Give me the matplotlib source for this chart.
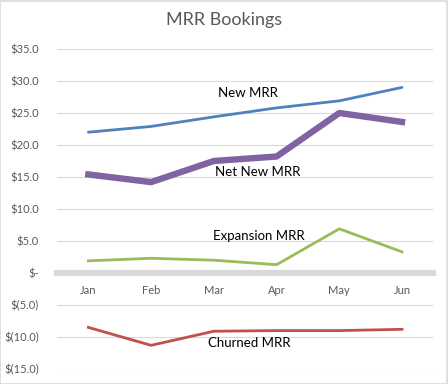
import matplotlib
matplotlib.use("Agg")
import matplotlib.pyplot as plt
from matplotlib.patches import Rectangle

months = ["Jan", "Feb", "Mar", "Apr", "May", "Jun"]
new_mrr = [22.0, 22.9, 24.4, 25.8, 26.9, 29.0]
net_new_mrr = [15.4, 14.2, 17.5, 18.2, 25.0, 23.6]
expansion_mrr = [1.9, 2.3, 2.0, 1.3, 6.9, 3.3]
churned_mrr = [-8.5, -11.3, -9.1, -9.0, -9.0, -8.8]
yticks = [35, 30, 25, 20, 15, 10, 5, 0, -5, -10, -15]

plt.rcParams['font.family'] = ['Lato', 'DejaVu Sans']

fig = plt.figure(figsize=(4.48, 3.84), dpi=100)
fig.patches.append(Rectangle((0.001, 0.001), 0.997, 0.997, transform=fig.transFigure,
                             fill=False, edgecolor="#D9D9D9", linewidth=1.2))
ax = fig.add_axes([57/448, 1-369/384, (433.4-57)/448, (369-49)/384])

x = list(range(len(months)))
ax.plot(x, new_mrr, color="#4F81BD", lw=2.0, solid_capstyle="round", zorder=3)
ax.plot(x, net_new_mrr, color="#8064A2", lw=4.6, solid_joinstyle="round", zorder=3)
ax.plot(x, expansion_mrr, color="#9BBB59", lw=2.0, zorder=3)
ax.plot(x, churned_mrr, color="#C0504D", lw=2.0, zorder=3)

ax.set_xlim(-0.5, 5.5)
ax.set_ylim(-15, 35)
ax.set_yticks(yticks)

def fmt(v):
    if v == 0:
        return "$-"
    if v < 0:
        return "$(%.1f)" % abs(v)
    return "$%.1f" % v

ax.set_yticklabels([fmt(v) for v in yticks])
ax.set_xticks(x)
ax.set_xticklabels(months)
ax.tick_params(axis="both", length=0, labelsize=8, labelcolor="#595959")
ax.tick_params(axis="y", pad=13)
ax.tick_params(axis="x", pad=9)
ax.grid(axis="y", color="#D9D9D9", lw=0.8)
ax.set_axisbelow(True)
for s in ["top", "right", "left"]:
    ax.spines[s].set_visible(False)
ax.spines["bottom"].set_position(("data", 0))
ax.spines["bottom"].set_color("#D9D9D9")
ax.spines["bottom"].set_linewidth(4.5)
ax.spines["bottom"].set_zorder(2)

lbl = dict(fontsize=9.5, color="black", ha="center", va="center", zorder=4)
ax.text(2.55, 28.1, "New MRR", **lbl)
ax.text(2.7, 15.8, "Net New MRR", **lbl)
ax.text(2.71, 5.8, "Expansion MRR", **lbl)
ax.text(2.57, -11.0, "Churned MRR", **lbl)

fig.text(0.5, 1-20/384, "MRR Bookings", ha="center", va="center", fontsize=13, color="#595959")

fig.savefig("out.png", dpi=100)
